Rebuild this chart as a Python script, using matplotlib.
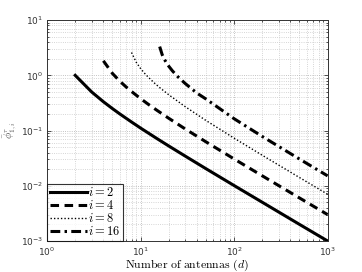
import matplotlib
matplotlib.use('Agg')
import matplotlib.pyplot as plt
from matplotlib.ticker import LogLocator, FixedLocator, NullFormatter

# values
d_i2 = [2, 3, 4, 5, 6, 8, 10, 15, 20, 30, 50, 100, 200, 500, 1000]
phi_i2 = [1.0, 0.5, 0.333, 0.25, 0.2, 0.143, 0.111, 0.0714, 0.0526, 0.0345, 0.0204, 0.0101, 0.00503, 0.002, 0.001]

d_i4 = [4, 5, 6, 7, 8, 10, 12, 15, 20, 30, 50, 100, 200, 500, 1000]
phi_i4 = [1.833, 1.083, 0.783, 0.617, 0.510, 0.379, 0.302, 0.232, 0.167, 0.107, 0.0625, 0.0306, 0.01515, 0.00602, 0.003005]

d_i8 = [8, 9, 10, 11, 12, 14, 16, 20, 30, 50, 100, 200, 500, 1000]
phi_i8 = [2.593, 1.718, 1.329, 1.096, 0.937, 0.730, 0.600, 0.445, 0.271, 0.1523, 0.0729, 0.0357, 0.01411, 0.00703]

d_i16 = [16, 17, 18, 19, 20, 22, 25, 30, 40, 50, 100, 200, 500, 1000]
phi_i16 = [3.318, 2.381, 1.940, 1.662, 1.465, 1.195, 0.947, 0.712, 0.4775, 0.373, 0.164, 0.0782, 0.0305, 0.01512]

labels = ['$i = 2$', '$i = 4$', '$i = 8$', '$i = 16$']
x_ticks = [1, 10, 100, 1000]
y_ticks = [1e-3, 1e-2, 1e-1, 1e0, 1e1]

fig = plt.figure(figsize=(3.62, 2.72), dpi=100)
ax = fig.add_axes([0.130, 0.114, 0.775, 0.812])

ax.plot(d_i2, phi_i2, color='black', linestyle='-', linewidth=2.2, label=labels[0])
ax.plot(d_i4, phi_i4, color='black', linestyle=(0, (2.8, 1.8)), linewidth=2.2, label=labels[1])
ax.plot(d_i8, phi_i8, color='black', linestyle=(0, (1, 1.5)), linewidth=1.0, label=labels[2])
ax.plot(d_i16, phi_i16, color='black', linestyle=(0, (3.2, 1.4, 0.8, 1.4)), linewidth=2.2, label=labels[3])

ax.set_xscale('log')
ax.set_yscale('log')
ax.set_xlim(1, 1000)
ax.set_ylim(1e-3, 10)
ax.xaxis.set_major_locator(FixedLocator(x_ticks))
ax.yaxis.set_major_locator(FixedLocator(y_ticks))
ax.xaxis.set_minor_locator(LogLocator(base=10, subs=range(2, 10), numticks=20))
ax.yaxis.set_minor_locator(LogLocator(base=10, subs=range(2, 10), numticks=20))
ax.xaxis.set_minor_formatter(NullFormatter())
ax.yaxis.set_minor_formatter(NullFormatter())

ax.grid(True, which='major', color='#b0b0b0', linestyle=':', linewidth=0.6)
ax.grid(True, which='minor', color='#c8c8c8', linestyle=':', linewidth=0.6)
ax.tick_params(which='both', direction='in', top=True, right=True, labelsize=6.5, width=0.6, colors='#333333')
ax.tick_params(which='major', length=3, pad=3)
ax.tick_params(which='minor', length=1.5)
for s in ax.spines.values():
    s.set_linewidth(0.7)
    s.set_color('#333333')

ax.set_xlabel(r'$\mathrm{Number\ of\ antennas\ }(d)$', fontsize=8.5, math_fontfamily='cm', labelpad=0)
ax.set_ylabel(r'$\bar\phi^{\tau}_{1,i}$', fontsize=7.5, math_fontfamily='cm', labelpad=2, color='#555555')

leg = ax.legend(loc='lower left', fontsize=9, frameon=True, fancybox=False, borderaxespad=0,
                handlelength=3.0, handletextpad=0.1, borderpad=0.2, labelspacing=0.0)
leg.get_frame().set_edgecolor('black')
leg.get_frame().set_linewidth(0.8)
for t in leg.get_texts():
    t.set_math_fontfamily('cm')

fig.savefig('out.png', dpi=100)
